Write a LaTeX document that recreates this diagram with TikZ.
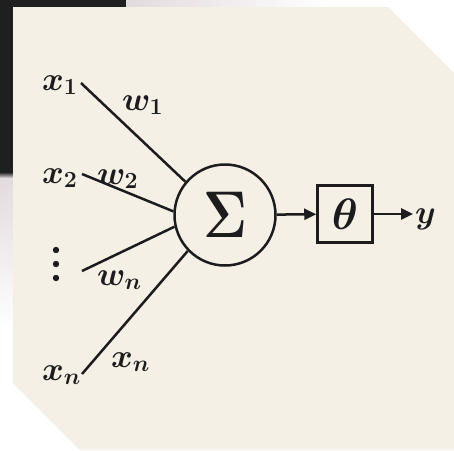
\RequirePackage{fix-cm}
\documentclass[tikz,border=0pt]{standalone}
\usetikzlibrary{arrows.meta}
\definecolor{beige}{HTML}{F5F0E6}
\definecolor{ink}{HTML}{1C1C1C}
\definecolor{darkbg}{HTML}{1F1F1F}
\definecolor{pinkgray}{HTML}{E3DADB}
\begin{document}
\begin{tikzpicture}[x=1pt,y=-1pt,
  lbl/.style={text=ink, font=\fontsize{33}{33}\selectfont\boldmath, inner sep=0pt, anchor=base west},
  wire/.style={draw=ink, line width=2.5pt},
  arr/.style={wire, -{Triangle[length=12pt,width=11pt]}}
]
\useasboundingbox (0,0) rectangle (454,450);
% background
\fill[white] (0,0) rectangle (454,450);
\fill[darkbg] (0,0) -- (126,0) -- (126,7) -- (13,7) -- (13,172) -- (0,172) -- cycle;
\shade[left color=pinkgray, right color=white] (126,0) rectangle (330,7);
\shade[top color=pinkgray, bottom color=white] (0,178) rectangle (13,330);
\shade[top color=darkbg, bottom color=pinkgray] (0,172) rectangle (13,178);
\fill[beige] (13,7) -- (388,7) -- (454,73) -- (454,450) -- (80,450) -- (13,383) -- cycle;

% summation and threshold
\node[circle, draw=ink, line width=2.5pt, minimum size=101pt, inner sep=0pt,
      text=ink, font=\fontsize{66}{66}\selectfont\boldmath] (sum) at (225,215) {\scalebox{0.82}[1]{$\Sigma$}};
\node[draw=ink, line width=2.5pt, minimum width=55pt, minimum height=57pt, inner sep=0pt,
      text=ink, font=\fontsize{44}{44}\selectfont\boldmath] (theta) at (345,214) {$\theta$};
\coordinate (yend) at (413,214);
\node[lbl] (yout) at (415,223) {$y$};
\draw[arr] (sum) -- (theta);
\draw[arr] (theta) -- (yend);

% inputs
\coordinate (s1) at (81,83);
\coordinate (s2) at (82,174);
\coordinate (s3) at (82,271);
\coordinate (s4) at (82,374);
\draw[wire] (s1) -- (sum.140);
\draw[wire] (s2) -- (sum.176);
\draw[wire] (s3) -- (sum.193);
\draw[wire] (s4) -- (sum.224);

\node[lbl] (x1) at (42,90) {$x_1$};
\node[lbl] (x2) at (42,183) {$x_2$};
\node[lbl] (xn) at (42,380) {$x_n$};
\node[lbl] (w1) at (122,110) {$w_1$};
\node[lbl] (w2) at (97,184) {$w_2$};
\node[lbl] (wn) at (97,285) {$w_n$};
\node[lbl] (xnb) at (111,367) {$x_n$};

\fill[ink] (56,250) circle (3.2) (56,264) circle (3.2) (56,278) circle (3.2);
\end{tikzpicture}
\end{document}
